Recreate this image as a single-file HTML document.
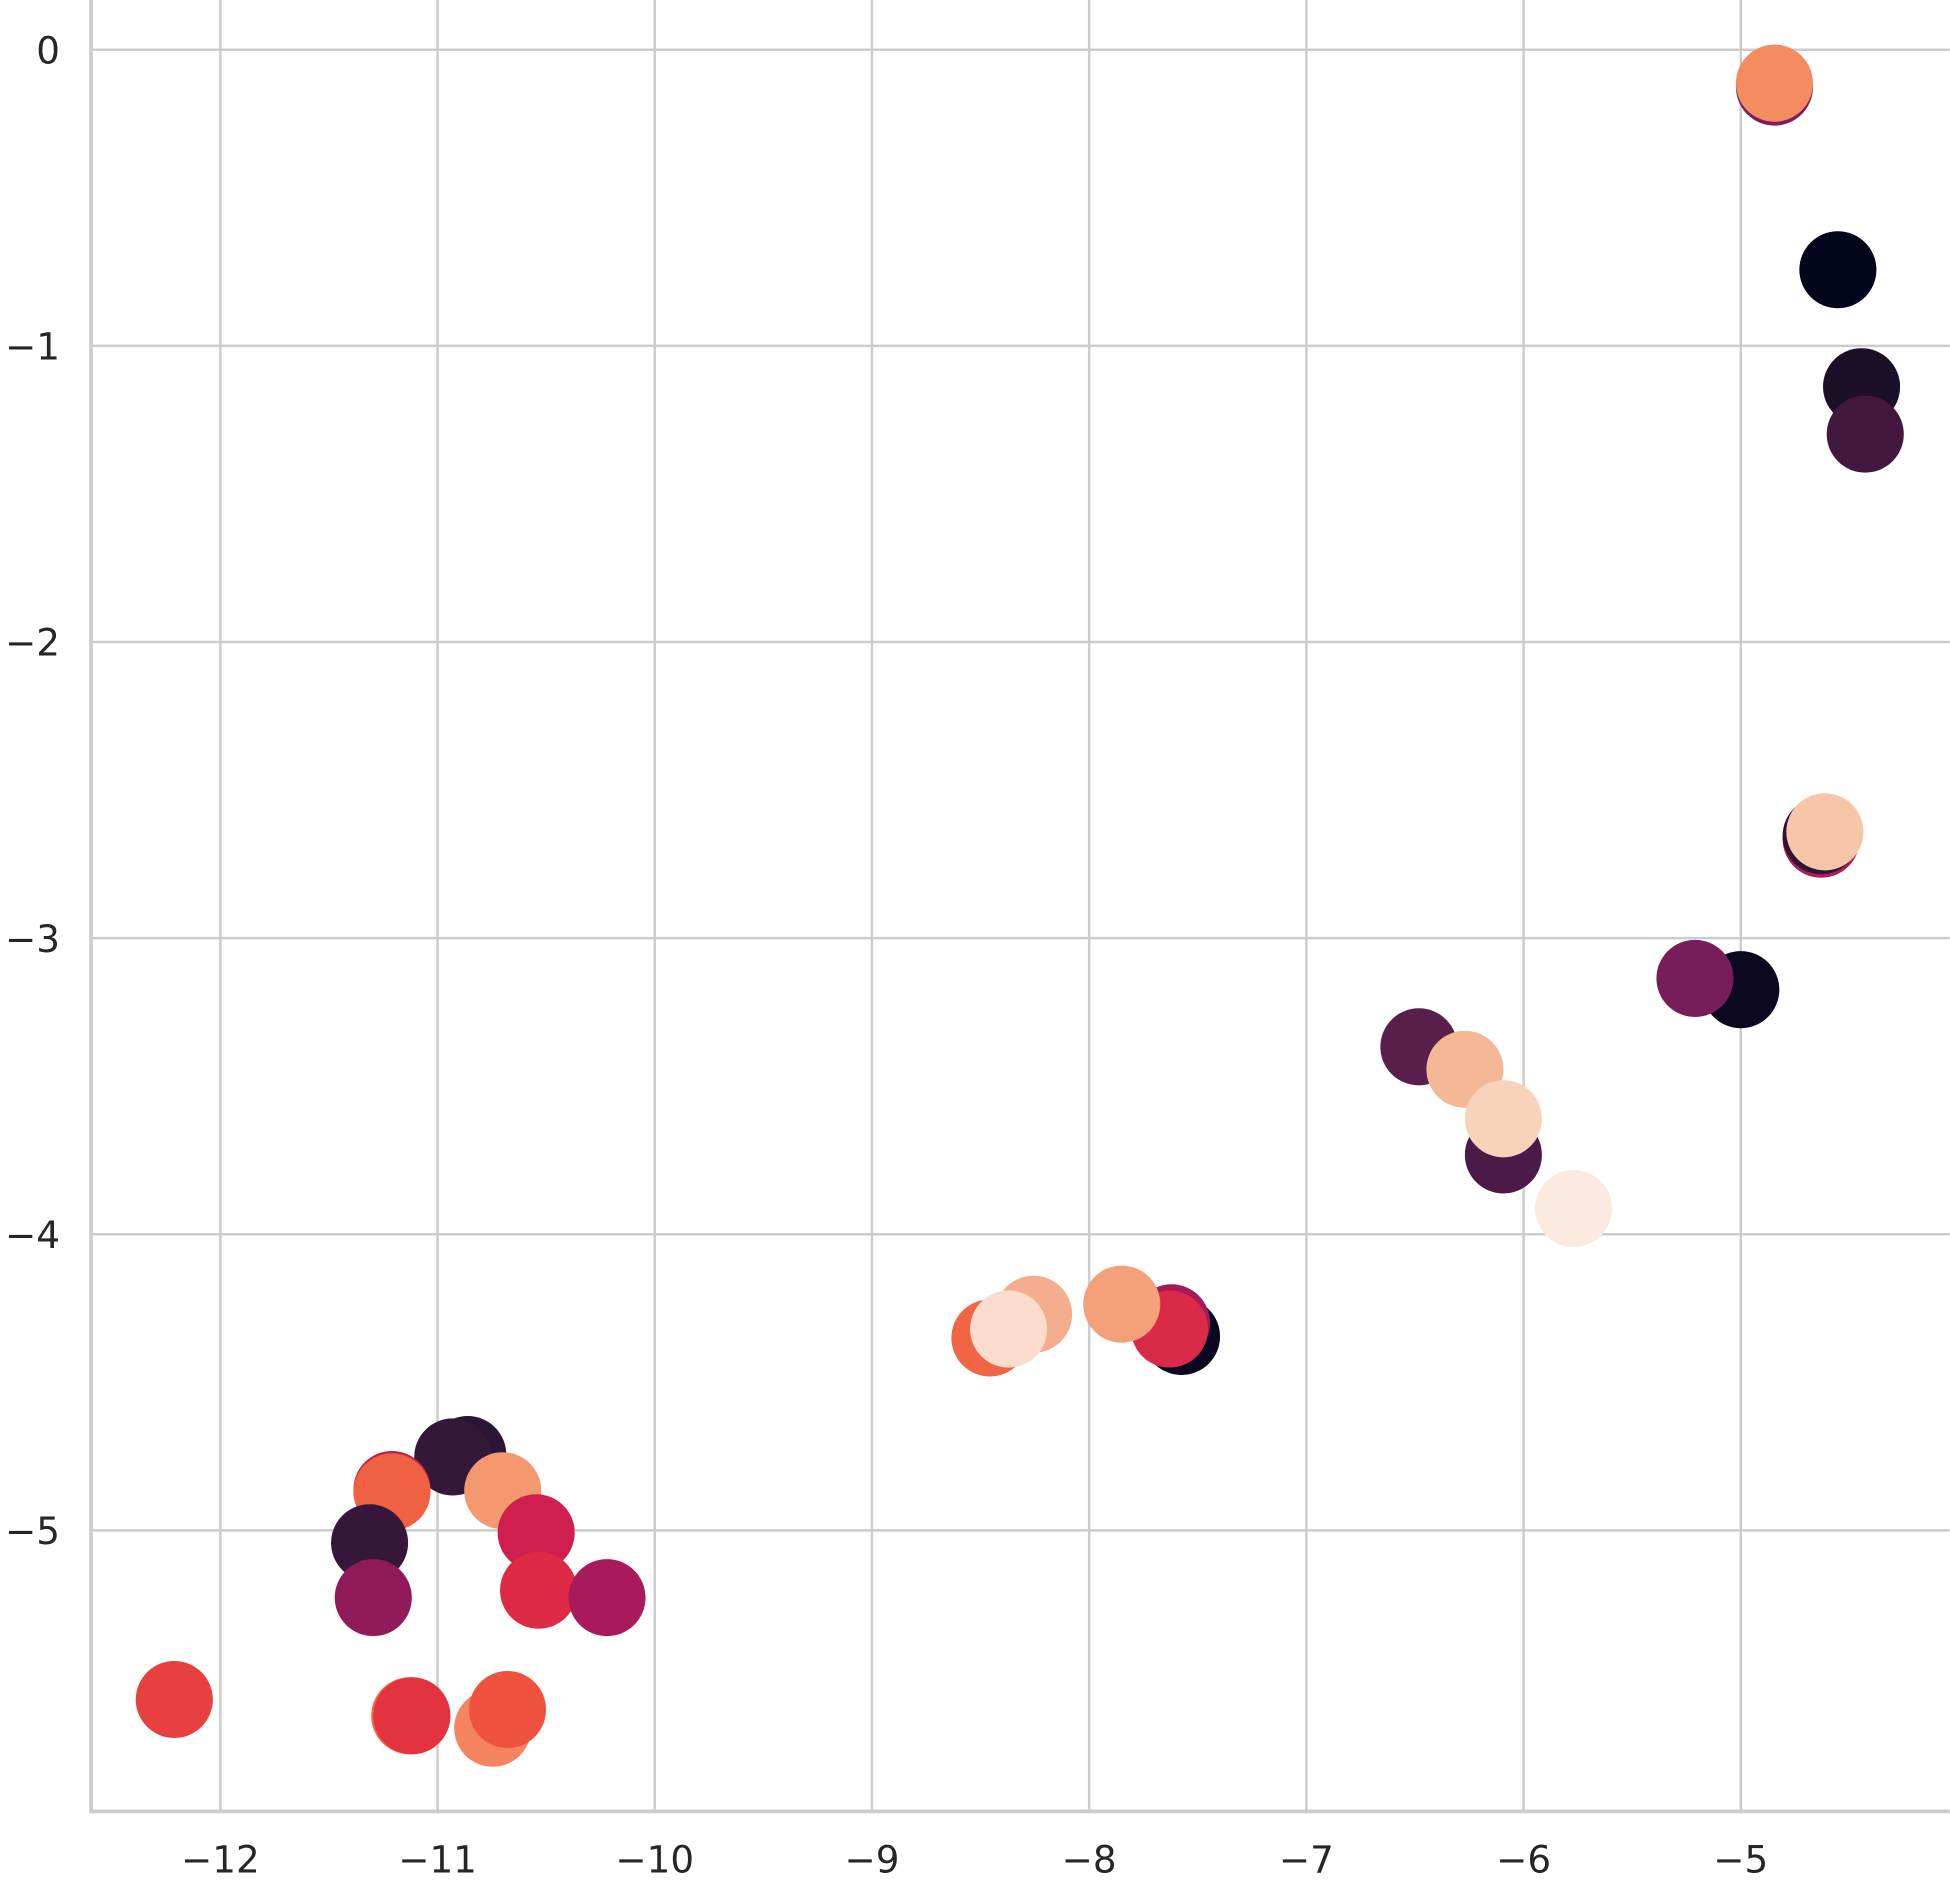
<!DOCTYPE html>
<html><head><meta charset="utf-8"><style>
html,body{margin:0;padding:0;background:#fff}
svg{display:block}
text{font-family:"DejaVu Sans","Liberation Sans",sans-serif;fill:#262626}
</style></head><body>
<svg id="chart" width="1950" height="1881" viewBox="0 0 1568 1513" xmlns="http://www.w3.org/2000/svg">
<g id="grid"></g>
<g id="points"></g>
<g id="axes"></g>
</svg>
<script>
const xTicks = [-12,-11,-10,-9,-8,-7,-6,-5];
const yTicks = [0,-1,-2,-3,-4,-5];
const xs = [-4.845,-4.845,-4.553,-4.444,-4.427,-4.63,-4.63,-4.613,-5.0,-5.211,-6.482,-6.27,-6.093,-6.093,-5.77,-7.575,-7.621,-7.63,-7.85,-8.256,-8.457,-8.371,-10.861,-10.93,-10.7,-11.21,-11.21,-11.313,-11.296,-10.546,-10.535,-10.22,-12.212,-11.128,-11.118,-10.746,-10.678];
const ys = [-0.126,-0.113,-0.743,-1.138,-1.298,-2.666,-2.654,-2.641,-3.174,-3.136,-3.367,-3.443,-3.732,-3.61,-3.913,-4.345,-4.299,-4.32,-4.236,-4.27,-4.35,-4.32,-4.744,-4.752,-4.866,-4.862,-4.87,-5.042,-5.227,-5.008,-5.202,-5.227,-5.571,-5.626,-5.626,-5.668,-5.605];
const colors = ["#7b1e5a","#f58c60","#03051a","#1c1028","#43183f","#b01a56","#2e1538","#f6c6a6","#0c0820","#771d5a","#5a1e4c","#f5b896","#4c1a48","#f8d3bb","#faeadf","#0a0720","#a3195a","#da2a48","#f4a17a","#f4ad8d","#f06543","#f9dccb","#2b1535","#341838","#f49870","#c51e52","#f06142","#36173b","#8f1b5a","#d01e4f","#df2a45","#a81a5b","#e8403e","#f2633f","#e2333f","#f58560","#ef5340"];
const NS="http://www.w3.org/2000/svg";
const L=73,R=1568,T=0,B=1457;
const sx=v=>177+(v+12)*174.71;
const sy=v=>40-v*238.2;
const grid=document.getElementById('grid'),pts=document.getElementById('points'),axes=document.getElementById('axes');
function mk(tag,attrs,parent){const e=document.createElementNS(NS,tag);for(const k in attrs)e.setAttribute(k,attrs[k]);parent.appendChild(e);return e;}
xTicks.forEach(t=>{
  const l=mk('line',{x1:sx(t),x2:sx(t),y1:T,y2:B,stroke:'#cccccc','stroke-width':2},grid);
  
  
  const tx=mk('text',{x:sx(t),y:1506,'text-anchor':'middle','font-size':30},axes);
  
  
  tx.textContent=(t<0?'\u2212':'')+Math.abs(t);
});
yTicks.forEach(t=>{
  const l=mk('line',{x1:L,x2:R,y1:sy(t),y2:sy(t),stroke:'#cccccc','stroke-width':2},grid);
  
  
  const tx=mk('text',{x:48,y:sy(t)+11,'text-anchor':'end','font-size':30},axes);
  
  
  tx.textContent=(t<0?'\u2212':'')+Math.abs(t);
});
const la=mk('line',{x1:L,x2:L,y1:T,y2:B+1.5,stroke:'#cccccc','stroke-width':3},axes);


const ba=mk('line',{x1:L,x2:R,y1:B,y2:B,stroke:'#cccccc','stroke-width':3},axes);


xs.forEach((x,i)=>{
  const c=mk('circle',{cx:sx(x),cy:sy(ys[i]),r:31,fill:colors[i]},pts);
  
  
});
</script>
</body></html>
